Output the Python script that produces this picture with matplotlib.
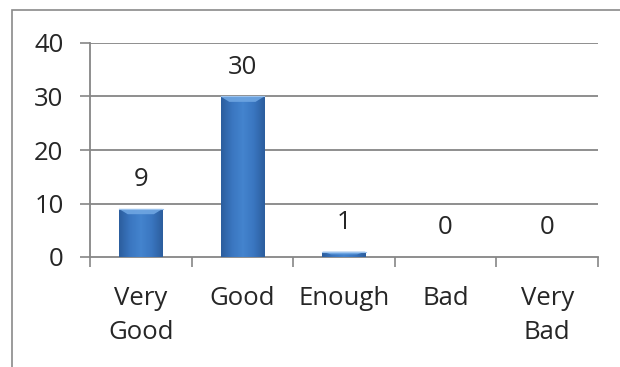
import numpy as np
import matplotlib.pyplot as plt
import matplotlib.patches as patches
from matplotlib.colors import LinearSegmentedColormap

plt.rcParams['font.family'] = ['Open Sans', 'DejaVu Sans']

categories = ["Very\nGood", "Good", "Enough", "Bad", "Very\nBad"]
values = [9, 30, 1, 0, 0]
yticks = [0, 10, 20, 30, 40]

GRID = "#868686"
TEXT = "#262626"
FS = 18.5

fig = plt.figure(figsize=(6.2, 3.67), dpi=100)
fig.patch.set_facecolor("white")

# chart frame (top and left edge visible)
fig.add_artist(patches.Rectangle((12 / 620, -0.2), 1.2, 1.2 - 10 / 367,
                                 transform=fig.transFigure, fill=False,
                                 ec="#8A8A8A", lw=1.2))

ax = fig.add_axes([90 / 620, 1 - 257 / 367, 508 / 620, 214 / 367])
ax.set_xlim(-0.5, len(categories) - 0.5)
ax.set_ylim(0, 40)

for y in yticks[1:]:
    ax.axhline(y, color=GRID, lw=1.3, zorder=1)

bar_cmap = LinearSegmentedColormap.from_list(
    "barblue", ["#2C5E9E", "#3A76C0", "#4484CE", "#3A76C0", "#2C5E9E"])
grad = np.linspace(0, 1, 64).reshape(1, -1)

x = np.arange(len(categories))
width = 0.43
bars = ax.bar(x, values, width=width, color="#3A76C0", zorder=2, lw=0)
for b, v in zip(bars, values):
    if v <= 0:
        continue
    x0, w, h = b.get_x(), b.get_width(), b.get_height()
    im = ax.imshow(grad, cmap=bar_cmap, aspect="auto", extent=(x0, x0 + w, 0, h),
                   zorder=3, interpolation="bicubic")
    im.set_clip_path(b)
    # light bevel at the top of the bar
    bh = min(1.0, h * 0.5)
    inset = w * 0.2
    ax.add_patch(patches.Polygon([(x0, h), (x0 + w, h), (x0 + w - inset, h - bh),
                                  (x0 + inset, h - bh)], closed=True,
                                 fc="#6FA6E2", ec="none", zorder=4, alpha=0.9))
    ax.plot([x0, x0 + w], [h, h], color="#9CC3EE", lw=0.8, zorder=5)

for xi, v in zip(x, values):
    ax.annotate(str(v), (xi, v), xytext=(0, 21), textcoords="offset points",
                ha="center", va="center", fontsize=FS, color=TEXT, zorder=6)

for s in ["top", "right"]:
    ax.spines[s].set_visible(False)
ax.spines["left"].set_color(GRID)
ax.spines["bottom"].set_color(GRID)
ax.spines["left"].set_linewidth(1.3)
ax.spines["bottom"].set_linewidth(1.3)

ax.set_yticks(yticks)
ax.tick_params(axis="y", length=7, width=1.2, color=GRID, pad=12,
               labelsize=FS, labelcolor=TEXT)
ax.set_xticks(x)
ax.set_xticklabels(categories, linespacing=1.45)
ax.tick_params(axis="x", length=0, pad=21, labelsize=FS, labelcolor=TEXT)
ax.set_xticks(np.arange(len(categories) + 1) - 0.5, minor=True)
ax.tick_params(axis="x", which="minor", length=7, width=1.2, color=GRID)

fig.savefig("out.png", dpi=100, facecolor="white")
